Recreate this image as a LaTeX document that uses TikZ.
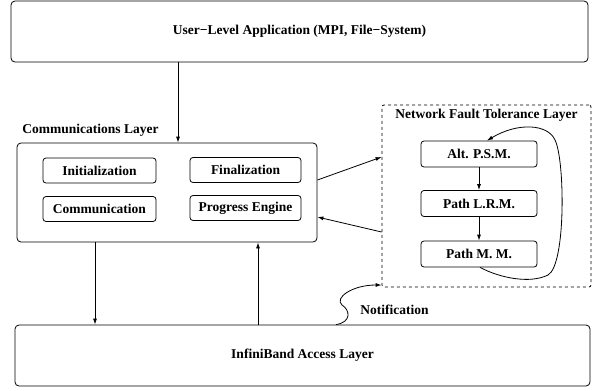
\documentclass[tikz,border=0pt]{standalone}
\usepackage{fontspec}
\setmainfont{Liberation Serif}
\usetikzlibrary{arrows.meta}
\begin{document}
\begin{tikzpicture}[x=1pt,y=-1pt,
  font=\bfseries\fontsize{13.5}{16}\selectfont,
  line width=0.8pt,
  >={Latex[length=6pt,width=4pt]},
  layer/.style={draw, rounded corners=4pt, inner sep=0pt},
  sub/.style={draw, rounded corners=3pt, inner sep=0pt, minimum height=25pt},
  plain/.style={inner sep=0pt}]
\useasboundingbox (0,0) rectangle (595,391);
% layers
\node[layer, minimum width=577pt, minimum height=61pt] (top) at (299.5,31.5) {User−Level Application (MPI, File−System)};
\node[layer, minimum width=300pt, minimum height=99pt] (comm) at (167,192.5) {};
\node[plain, anchor=west] (commlbl) at (22,130) {Communications Layer};
\node[sub, minimum width=113pt] (init) at (99.5,170.5) {Initialization};
\node[sub, minimum width=111pt] (fin) at (245.5,170) {Finalization};
\node[sub, minimum width=113pt] (cmn) at (99.5,209) {Communication};
\node[sub, minimum width=111pt] (prog) at (245.5,208) {Progress Engine};
\node[draw, dashed, rounded corners=2pt, inner sep=0pt, minimum width=209pt, minimum height=182pt] (nft) at (486.5,196) {};
\node[plain] (nftlbl) at (486.5,115) {Network Fault Tolerance Layer};
\node[sub, minimum width=116pt, minimum height=26pt] (psm) at (479,154) {Alt. P.S.M.};
\node[sub, minimum width=116pt, minimum height=26pt] (lrm) at (479,203.5) {Path L.R.M.};
\node[sub, minimum width=116pt, minimum height=26pt] (mm) at (479,254) {Path M. M.};
\node[layer, minimum width=575pt, minimum height=61pt] (bot) at (302.5,355.5) {InfiniBand Access Layer};
\node[plain, anchor=west] (notif) at (360,310) {Notification};
% helper x positions
\coordinate (x1) at (178,0);
\coordinate (x2) at (95,0);
\coordinate (x3) at (258,0);
\coordinate (x4) at (336,0);
% connectors
\draw[->] (top.south -| x1) -- (comm.north -| x1);
\draw[->] (comm.south -| x2) -- (bot.north -| x2);
\draw[->] (bot.north -| x3) -- (comm.south -| x3);
\draw[->] (comm.east) ++(0,-12.5) coordinate (a1) (a1) -- ([yshift=39pt]nft.west);
\draw[->] ([yshift=-36pt]nft.west) -- ([yshift=-24.5pt]comm.east);
\draw[->] (psm) -- (lrm);
\draw[->] (lrm) -- (mm);
\draw[->] ([xshift=1pt]mm.south) .. controls (500,278) and (530,284) .. (548,275)
  .. controls (566,265) and (565,160) .. (555,140)
  .. controls (548,124) and (518,122) .. ([xshift=8pt]psm.north);
\draw[->] (bot.north -| x4) .. controls (352,322) and (350,310) .. (342,305)
  .. controls (334,298) and (352,285) .. ([yshift=-89pt]nft.west);
\end{tikzpicture}
\end{document}
